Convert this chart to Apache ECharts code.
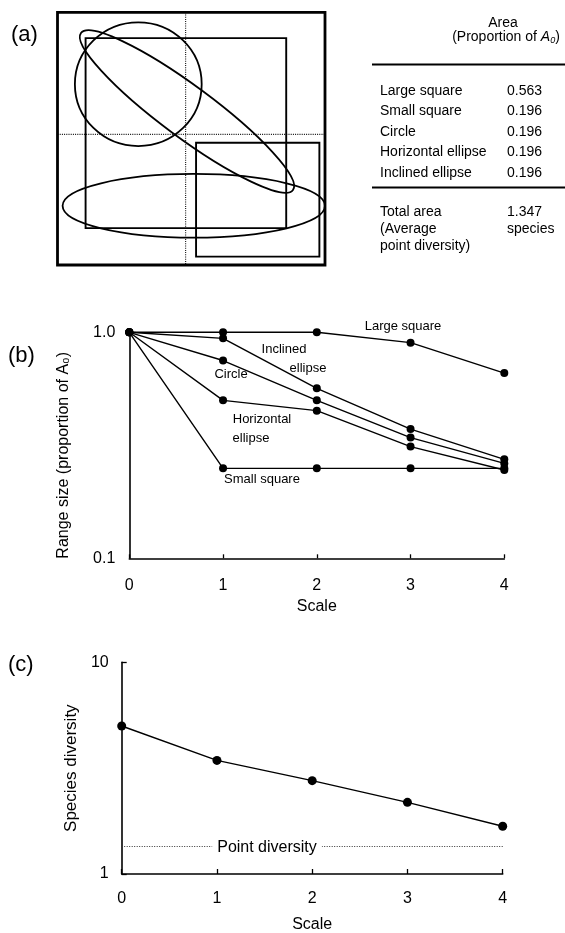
<!DOCTYPE html>
<html><head><meta charset="utf-8">
<script src="https://cdn.jsdelivr.net/npm/echarts/dist/echarts.min.js"></script>
<style>html,body{margin:0;padding:0;background:#fff}#c{width:565px;height:933px}</style>
</head><body><div id="c"></div>
<script>
const FONT = '"Liberation Sans", Arial, Helvetica, sans-serif';

// ---------- panel (a) ----------
const shapeNames = ['Large square', 'Small square', 'Circle', 'Horizontal ellipse', 'Inclined ellipse'];
const shapeAreas = ['0.563', '0.196', '0.196', '0.196', '0.196'];
const totalArea = 1.347;
// geometry in units of the A0 square (x to the right, y downward)
const squareShapes = [[0, 0, 1, 1], [0.105, 0.102, 0.855, 0.854], [0.518, 0.516, 0.979, 0.967]]; // A0, large, small
const ellipseShapes = [[0.302, 0.2845, 0.237, 0.245, 0], [0.5095, 0.7657, 0.4905, 0.126, 0], [0.484, 0.3926, 0.493, 0.102, -36.5]];
const dividerX = 0.479, dividerY = 0.483;

// ---------- panel (b) ----------
const scales = [0, 1, 2, 3, 4];
const rangeLargeSquare = [1.0, 1.0, 1.0, 0.90, 0.66];
const rangeInclinedEllipse = [1.0, 0.94, 0.565, 0.373, 0.274];
const rangeCircle = [1.0, 0.75, 0.50, 0.342, 0.263];
const rangeHorizontalEllipse = [1.0, 0.50, 0.45, 0.312, 0.246];
const rangeSmallSquare = [1.0, 0.25, 0.25, 0.25, 0.25];
const rangeTickLabels = { '0.1': '0.1', '1.0': '1.0' };

// ---------- panel (c) ----------
const speciesDiversity = [5.0, 3.44, 2.76, 2.18, 1.68];
const diversityTickLabels = { '1': '1', '10': '10' };

const chart = echarts.init(document.getElementById('c'), null, { renderer: 'canvas' });
const black = '#000';

function diagramItem(params, api) {
  const kind = api.value(2), idx = api.value(3);
  if (kind === 0) {
    const r = squareShapes[idx];
    const p0 = api.coord([r[0], r[1]]), p1 = api.coord([r[2], r[3]]);
    return { type: 'rect', shape: { x: Math.min(p0[0], p1[0]), y: Math.min(p0[1], p1[1]), width: Math.abs(p1[0] - p0[0]), height: Math.abs(p1[1] - p0[1]) },
      style: { fill: 'none', stroke: black, lineWidth: idx === 0 ? 2.8 : 1.9 } };
  }
  if (kind === 1) {
    const e = ellipseShapes[idx];
    const c = api.coord([e[0], e[1]]);
    const sz = api.size([e[2], e[3]], [e[0], e[1]]);
    return { type: 'ellipse', x: c[0], y: c[1], rotation: e[4] * Math.PI / 180,
      shape: { cx: 0, cy: 0, rx: sz[0], ry: sz[1] },
      style: { fill: 'none', stroke: black, lineWidth: 1.8 } };
  }
  // dotted dividers
  const a = idx === 0 ? api.coord([dividerX, 0]) : api.coord([0, dividerY]);
  const b = idx === 0 ? api.coord([dividerX, 1]) : api.coord([1, dividerY]);
  return { type: 'line', shape: { x1: a[0], y1: a[1], x2: b[0], y2: b[1] },
    style: { stroke: '#111', lineWidth: 1.1, lineDash: [1, 1.2] } };
}

const diagramData = [[0.5, 0.5, 2, 0], [0.5, 0.5, 2, 1]]
  .concat(ellipseShapes.map((e, i) => [0.5, 0.5, 1, i]))
  .concat(squareShapes.map((s, i) => [0.5, 0.5, 0, i]));

function lineSeries(name, values, xi) {
  return {
    name, type: 'line', xAxisIndex: xi, yAxisIndex: xi,
    data: scales.map((s, i) => [s, values[i]]),
    symbol: 'circle', symbolSize: xi === 2 ? 9 : 8, showSymbol: true, clip: false,
    lineStyle: { color: black, width: 1.4 }, itemStyle: { color: black },
    emphasis: { disabled: true }, silent: true
  };
}

// table graphics
const tableEls = [];
const txt = (text, x, y, align, size, extra) => Object.assign({ type: 'text', x, y, z: 100,
  style: { text, fill: black, font: `${size || 14}px ${FONT}`, align: align || 'left', verticalAlign: 'middle' } }, extra || {});
tableEls.push(txt('Area', 503, 23, 'center'));
tableEls.push({ type: 'text', x: 506, y: 37, z: 100, style: {
  text: '(Proportion of {i|A}{s|0})', fill: black, font: `14px ${FONT}`, align: 'center', verticalAlign: 'middle',
  rich: { i: { fontStyle: 'italic', fontSize: 14, fontFamily: FONT, fill: black }, s: { fontStyle: 'italic', fontSize: 9, fontFamily: FONT, fill: black, padding: [7, 0, 0, 0] } } } });
tableEls.push({ type: 'line', shape: { x1: 372, y1: 64.5, x2: 565, y2: 64.5 }, style: { stroke: black, lineWidth: 1.8 } });
shapeNames.forEach((n, i) => {
  const y = 91 + i * 20.5;
  tableEls.push(txt(n, 380, y, 'left'));
  tableEls.push(txt(shapeAreas[i], 507, y, 'left'));
});
tableEls.push({ type: 'line', shape: { x1: 372, y1: 187.5, x2: 565, y2: 187.5 }, style: { stroke: black, lineWidth: 1.8 } });
['Total area', '(Average', 'point diversity)'].forEach((t, i) => tableEls.push(txt(t, 380, 212.5 + i * 16.8, 'left')));
[totalArea.toFixed(3), 'species'].forEach((t, i) => tableEls.push(txt(t, 507, 212.5 + i * 16.8, 'left')));

// panel letters
tableEls.push(txt('(a)', 11, 35, 'left', 22));
tableEls.push(txt('(b)', 8, 356, 'left', 22));
tableEls.push(txt('(c)', 8, 665, 'left', 22));

// curve labels in panel (b)
const curveLabels = [['Large square', 403, 326], ['Inclined', 284, 349.5], ['ellipse', 308, 368], ['Circle', 231, 374],
  ['Horizontal', 262, 419.5], ['ellipse', 251, 438], ['Small square', 262, 479]];
curveLabels.forEach(l => tableEls.push(txt(l[0], l[1], l[2], 'center', 13)));
// point diversity label
tableEls.push({ type: 'text', x: 267, y: 847.5, z: 100, style: { text: 'Point diversity', fill: black, font: `16px ${FONT}`,
  align: 'center', verticalAlign: 'middle', backgroundColor: '#fff', padding: [0, 5, 0, 5] } });

const axisText = { color: black, fontFamily: FONT };

chart.setOption({
  animation: false,
  backgroundColor: '#fff',
  grid: [
    { left: 57.5, top: 12.3, width: 267.5, height: 252.7, outerBoundsMode: 'none', containLabel: false },
    { left: 129.3, top: 332.3, width: 375, height: 226, outerBoundsMode: 'none', containLabel: false },
    { left: 121.7, top: 662.3, width: 381, height: 211.7, outerBoundsMode: 'none', containLabel: false }
  ],
  xAxis: [
    { gridIndex: 0, type: 'value', min: 0, max: 1, show: false },
    { gridIndex: 1, type: 'value', min: 0, max: 4, interval: 1,
      axisLine: { show: true, onZero: false, lineStyle: { color: black, width: 1.6 } },
      axisTick: { show: true, inside: true, length: 4, lineStyle: { color: black, width: 1.3 } },
      axisLabel: Object.assign({ fontSize: 16, margin: 19 }, axisText), splitLine: { show: false },
      name: 'Scale', nameLocation: 'middle', nameGap: 40, nameTextStyle: Object.assign({ fontSize: 16 }, axisText) },
    { gridIndex: 2, type: 'value', min: 0, max: 4, interval: 1,
      axisLine: { show: true, onZero: false, lineStyle: { color: black, width: 1.6 } },
      axisTick: { show: true, inside: true, length: 5, lineStyle: { color: black, width: 1.3 } },
      axisLabel: Object.assign({ fontSize: 16, margin: 17 }, axisText), splitLine: { show: false },
      name: 'Scale', nameLocation: 'middle', nameGap: 43, nameTextStyle: Object.assign({ fontSize: 16 }, axisText) }
  ],
  yAxis: [
    { gridIndex: 0, type: 'value', min: 0, max: 1, inverse: true, show: false },
    { gridIndex: 1, type: 'log', logBase: 10, min: 0.1, max: 1,
      axisLine: { show: true, onZero: false, lineStyle: { color: black, width: 1.6 } },
      axisTick: { show: false }, splitLine: { show: false },
      axisLabel: Object.assign({ fontSize: 16, margin: 14, formatter: v => rangeTickLabels[Number(v).toFixed(1)] || '' }, axisText),
      name: 'Range size (proportion of A₀)', nameLocation: 'middle', nameGap: 58, nameRotate: 90,
      nameTextStyle: Object.assign({ fontSize: 16, padding: [0, 20, 0, 0] }, axisText) },
    { gridIndex: 2, type: 'log', logBase: 10, min: 1, max: 10,
      axisLine: { show: true, onZero: false, lineStyle: { color: black, width: 1.6 } },
      axisTick: { show: true, inside: true, length: 5, lineStyle: { color: black, width: 1.3 } }, splitLine: { show: false },
      axisLabel: Object.assign({ fontSize: 16, margin: 13, formatter: v => diversityTickLabels[String(Math.round(v))] || '' }, axisText),
      name: 'Species diversity', nameLocation: 'middle', nameGap: 40, nameRotate: 90,
      nameTextStyle: Object.assign({ fontSize: 17 }, axisText) }
  ],
  series: [
    { type: 'custom', xAxisIndex: 0, yAxisIndex: 0, renderItem: diagramItem, data: diagramData, silent: true, clip: false },
    lineSeries('Large square', rangeLargeSquare, 1),
    lineSeries('Inclined ellipse', rangeInclinedEllipse, 1),
    lineSeries('Circle', rangeCircle, 1),
    lineSeries('Horizontal ellipse', rangeHorizontalEllipse, 1),
    lineSeries('Small square', rangeSmallSquare, 1),
    Object.assign(lineSeries('Species diversity', speciesDiversity, 2), {
      markLine: { silent: true, symbol: 'none', label: { show: false },
        lineStyle: { color: '#333', type: [1, 1.5], width: 1 },
        data: [{ yAxis: totalArea }] } })
  ],
  graphic: { elements: tableEls }
});
</script></body></html>
